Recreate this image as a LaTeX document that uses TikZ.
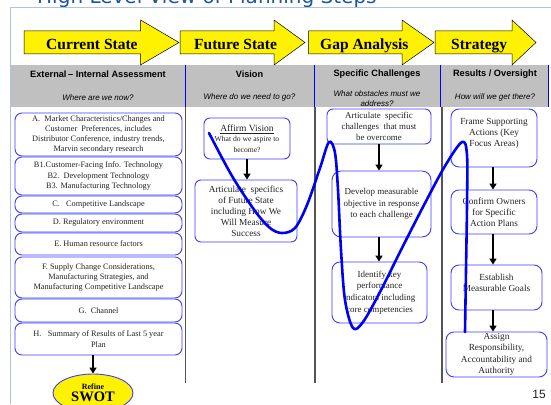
\documentclass[tikz,border=0pt]{standalone}
\usepackage{fontspec}
\setmainfont{Liberation Serif}
\setsansfont{Liberation Sans}
\newfontfamily\titlefont{DejaVu Sans}
\usetikzlibrary{shapes.geometric,arrows.meta}

\definecolor{framebl}{RGB}{170,196,230}
\definecolor{titlebl}{RGB}{31,84,160}
\definecolor{boxbl}{RGB}{60,60,255}
\definecolor{hdrgray}{RGB}{192,192,192}
\definecolor{txtgray}{RGB}{35,35,35}
\definecolor{sepgray}{RGB}{85,85,85}
\definecolor{penblue}{RGB}{0,0,245}

\begin{document}
\begin{tikzpicture}[x=1pt,y=-1pt,
  stepbox/.style={draw=boxbl, line width=0.9pt, rounded corners=6pt, fill=white,
    align=center, inner sep=1pt, text=txtgray},
  leftbox/.style={stepbox, minimum width=167pt, rounded corners=7pt,
    font=\fontsize{8.3}{10.3}\selectfont},
  flowarrow/.style={-{Triangle[length=6pt,width=7pt]}, line width=1.7pt, black},
  banner/.style={draw=black, line width=0.5pt, fill=yellow},
  bannertext/.style={anchor=base west, inner sep=0pt,
    font=\fontsize{15.5}{16}\selectfont\bfseries},
  hdrtitle/.style={font=\sffamily\bfseries\fontsize{9.2}{10}\selectfont, inner sep=0pt},
  hdrquestion/.style={font=\sffamily\itshape\fontsize{8}{10.5}\selectfont, inner sep=0pt, align=center},
  colsep/.style={sepgray, line width=1.2pt},
  hdrsep/.style={blue, line width=0.8pt}
]
\useasboundingbox (0,0) rectangle (551,404);

% page title (runs off the top edge) and slide frame
\node[anchor=base west, inner sep=0pt, text=titlebl,
  font=\titlefont\fontsize{20}{22}\selectfont] (title) at (37,4) {High Level View of Planning Steps};
\draw[framebl, line width=0.8pt] (10.5,404) -- (10.5,7) -- (551,7);

% grey header band with blue column rules
\fill[hdrgray] (10.5,65) rectangle (548,107);
\foreach \x in {185,314.5,440,548} \draw[hdrsep] (\x,65) -- (\x,107);

% yellow phase banners
\draw[banner] (24,31) -- (140.5,31) -- (140.5,20) -- (179,42.5) -- (140.5,65) -- (140.5,54) -- (24,54) -- cycle;
\draw[banner] (180,31) -- (274,31) -- (274,20) -- (305,42.5) -- (274,65) -- (274,54) -- (180,54) -- cycle;
\draw[banner] (308.5,31) -- (402,31) -- (402,20) -- (434,42.5) -- (402,65) -- (402,54) -- (308.5,54) -- cycle;
\draw[banner] (435,31) -- (512,31) -- (512,20) -- (536,42.5) -- (512,65) -- (512,54) -- (435,54) -- cycle;
\node[bannertext] (bCur) at (46,49) {Current State};
\node[bannertext] (bFut) at (194,49) {Future State};
\node[bannertext] (bGap) at (320,49) {Gap Analysis};
\node[bannertext] (bStr) at (451,49) {Strategy};

% header texts
\node[hdrtitle] (h1) at (98,74.5) {External\,– Internal Assessment};
\node[hdrquestion] (q1) at (98,97.5) {Where are we now?};
\node[hdrtitle] (h2) at (249.5,74.5) {Vision};
\node[hdrquestion] (q2) at (249.5,97.5) {Where do we need to go?};
\node[hdrtitle] (h3) at (377,74.5) {Specific Challenges};
\node[hdrquestion] (q3) at (377,98.5) {What obstacles must we\\address?};
\node[hdrtitle] (h4) at (495,74.5) {Results / Oversight};
\node[hdrquestion] (q4) at (495,97.5) {How will we get there?};

% dark column rules below the header
\foreach \x in {185.5,315,442} \draw[colsep] (\x,107) -- (\x,383);

% current state: assessment list
\node[leftbox, minimum height=43pt] (mA) at (98.5,134.5)
  {A.\ \ Market Characteristics/Changes and\\Customer\ \ Preferences, includes\\Distributor Conference, industry trends,\\Marvin secondary research};
\node[leftbox, minimum height=38pt] (mB) at (98.5,176)
  {B1.Customer-Facing Info. Technology\\B2.\ \ Development Technology\\B3. Manufacturing Technology};
\node[leftbox, minimum height=17pt] (mC) at (98.5,204.5) {C.\ \ \ Competitive Landscape};
\node[leftbox, minimum height=18pt] (mD) at (98.5,223) {D. Regulatory environment};
\node[leftbox, minimum height=22pt] (mE) at (98.5,244) {E. Human resource factors};
\node[leftbox, minimum height=41pt] (mF) at (98.5,277.5)
  {F. Supply Change Considerations,\\Manufacturing Strategies, and\\Manufacturing Competitive Landscape};
\node[leftbox, minimum height=23pt] (mG) at (98.5,310.5) {G.\ \ Channel};
\node[leftbox, minimum height=32pt] (mH) at (98.5,339) {H.\ \ \ Summary of Results of Last 5 year\\Plan};

\node[ellipse, draw=boxbl, line width=0.9pt, fill=yellow, minimum width=80pt,
  minimum height=38pt, inner sep=0pt, align=center] (swot) at (93,393)
  {{\fontsize{8}{9}\selectfont\bfseries Refine}\\{\fontsize{14.5}{15}\selectfont\bfseries SWOT}};
\draw[flowarrow] (swot.north |- mH.south) -- (swot.north);

% future state: vision
\node[stepbox, minimum width=86pt, minimum height=41pt, font=\fontsize{7.6}{10.5}\selectfont] (affirm) at (247,138.5)
  {{\fontsize{9.5}{11}\selectfont\underline{Affirm Vision}}\\What do we aspire to\\become?};
\node[stepbox, minimum width=102pt, minimum height=62pt, font=\fontsize{9.3}{11}\selectfont] (artvis) at (246,211)
  {Articulate\ \ specifics\\of Future State\\including How We\\Will Measure\\Success};
\draw[flowarrow] (affirm.south) -- (affirm.south |- artvis.north);

% gap analysis: challenges
\node[stepbox, minimum width=104pt, minimum height=35pt, font=\fontsize{8.9}{11.3}\selectfont] (chal) at (379,126.5)
  {Articulate\ \ specific\\challenges\ \ that must\\be overcome};
\node[stepbox, minimum width=99pt, minimum height=66pt, rounded corners=9pt, font=\fontsize{9}{11.3}\selectfont] (objv) at (381.5,204)
  {Develop measurable\\objective in response\\to each challenge};
\node[stepbox, minimum width=95pt, minimum height=61pt, rounded corners=8pt, font=\fontsize{9}{11.6}\selectfont] (kpi) at (379.5,292.5)
  {Identify key\\performance\\indicators including\\core competencies};
\draw[flowarrow] (chal.south) -- (chal.south |- objv.north);
\draw[flowarrow] (chal.south |- objv.south) -- (chal.south |- kpi.north);

% strategy: results and oversight
\node[stepbox, minimum width=86pt, minimum height=58pt, rounded corners=8pt, font=\fontsize{9.3}{10.7}\selectfont] (frame) at (494,138)
  {Frame Supporting\\Actions (Key\\Focus Areas)\rule[-11pt]{0pt}{11pt}};
\node[stepbox, minimum width=86pt, minimum height=44pt, rounded corners=8pt, font=\fontsize{9.3}{11}\selectfont] (owners) at (494,212)
  {Confirm Owners\\for Specific\\Action Plans};
\node[stepbox, minimum width=91pt, minimum height=45pt, rounded corners=8pt, font=\fontsize{9.3}{11.3}\selectfont] (goals) at (496.5,287.5)
  {Establish\\Measurable Goals\rule[-9pt]{0pt}{9pt}};
\node[stepbox, minimum width=101pt, minimum height=45pt, rounded corners=8pt, font=\fontsize{9.3}{11.3}\selectfont] (assign) at (496.5,354.5)
  {Assign\\Responsibility,\\Accountability and\\Authority};
\coordinate (sx) at (493,0);
\draw[flowarrow] (sx |- frame.south) -- (sx |- owners.north);
\draw[flowarrow] (sx |- owners.south) -- (sx |- goals.north);
\draw[flowarrow] (sx |- goals.south) -- (sx |- assign.north);

% page number
\node[font=\sffamily\fontsize{12}{12}\selectfont, text=txtgray, inner sep=0pt] (pgno) at (539,394) {15};

% freehand blue pen stroke across the columns
\draw[penblue, line width=2.6pt, line cap=round, line join=round]
  plot[smooth, tension=0.55] coordinates {
    (209,133) (232,176) (255,211) (270,228) (282,233) (295,228) (307,205)
    (320,168) (329,142) (335,153) (338,190) (341,250) (345,300) (353,328)
    (363,322) (380,292) (402,248) (424,205) (445,166) (462,142) (467,155)
    (467,205) (466,270) (465,332)};
\end{tikzpicture}
\end{document}
